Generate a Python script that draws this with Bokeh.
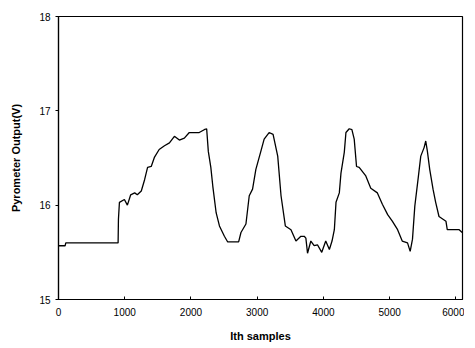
from bokeh.plotting import figure
from bokeh.models import Range1d, FixedTicker
from bokeh.embed import file_html
from bokeh.resources import INLINE

samples = [0, 100, 110, 900, 905, 920, 995, 1040, 1090, 1150, 1190, 1250, 1300, 1345, 1400,
           1450, 1520, 1600, 1675, 1750, 1825, 1900, 1975, 2125, 2200, 2237, 2262, 2300, 2330,
           2380, 2430, 2505, 2555, 2720, 2755, 2830, 2880, 2930, 2980, 3055, 3105, 3180, 3240,
           3310, 3360, 3425, 3510, 3585, 3660, 3710, 3735, 3760, 3810, 3860, 3910, 3975, 4035,
           4090, 4130, 4165, 4190, 4240, 4265, 4315, 4340, 4390, 4430, 4465, 4500, 4540, 4640,
           4715, 4815, 4890, 4970, 5040, 5120, 5190, 5270, 5310, 5345, 5380, 5435, 5470, 5520,
           5545, 5570, 5605, 5655, 5695, 5745, 5850, 5870, 6050, 6095]
output_v = [15.57, 15.57, 15.60, 15.60, 15.85, 16.03, 16.06, 16.00, 16.11, 16.13, 16.11, 16.15,
            16.27, 16.40, 16.41, 16.51, 16.59, 16.63, 16.66, 16.73, 16.69, 16.71, 16.77, 16.77,
            16.80, 16.81, 16.57, 16.40, 16.20, 15.92, 15.78, 15.67, 15.61, 15.61, 15.71, 15.80,
            16.10, 16.17, 16.38, 16.57, 16.70, 16.77, 16.75, 16.52, 16.10, 15.78, 15.74, 15.62,
            15.67, 15.67, 15.65, 15.49, 15.62, 15.57, 15.58, 15.50, 15.62, 15.53, 15.62, 15.74,
            16.03, 16.13, 16.34, 16.56, 16.77, 16.81, 16.80, 16.70, 16.41, 16.40, 16.31, 16.18,
            16.13, 16.01, 15.90, 15.83, 15.74, 15.62, 15.60, 15.51, 15.64, 15.99, 16.31, 16.52,
            16.61, 16.68, 16.57, 16.38, 16.17, 16.03, 15.88, 15.83, 15.74, 15.74, 15.71]

x_ticks = [0, 1000, 2000, 3000, 4000, 5000, 6000]
y_ticks = [15, 16, 17, 18]

p = figure(width=464, height=345, output_backend="svg", toolbar_location=None,
           x_range=Range1d(0, 6100), y_range=Range1d(15, 18),
           min_border_left=58, min_border_right=2, min_border_top=16, min_border_bottom=46)
p.line(samples, output_v, line_color="black", line_width=1.3)

p.grid.visible = False
p.outline_line_color = "black"
p.outline_line_width = 1.2
p.background_fill_color = "white"
p.border_fill_color = "white"

font = "Liberation Sans"
for ax in (p.xaxis, p.yaxis):
    ax.axis_line_color = "black"
    ax.axis_line_width = 1.2
    ax.major_tick_line_color = "black"
    ax.minor_tick_line_color = None
    ax.major_label_text_font = font
    ax.major_label_text_font_size = "10px"
    ax.major_label_text_color = "black"
    ax.axis_label_text_font = font
    ax.axis_label_text_font_size = "11px"
    ax.axis_label_text_font_style = "bold"
    ax.axis_label_text_color = "black"

p.xaxis.ticker = FixedTicker(ticks=x_ticks)
p.yaxis.ticker = FixedTicker(ticks=y_ticks)
p.xaxis.major_tick_in = 3
p.xaxis.major_tick_out = 0
p.yaxis.major_tick_in = 0
p.yaxis.major_tick_out = 3
p.xaxis.major_label_standoff = 8
p.yaxis.major_label_standoff = 5
p.xaxis.axis_label = "Ith samples"
p.yaxis.axis_label = "Pyrometer Output(V)"
p.xaxis.axis_label_standoff = 11
p.yaxis.axis_label_standoff = 14

open("out.html", "w").write(file_html(p, INLINE))
